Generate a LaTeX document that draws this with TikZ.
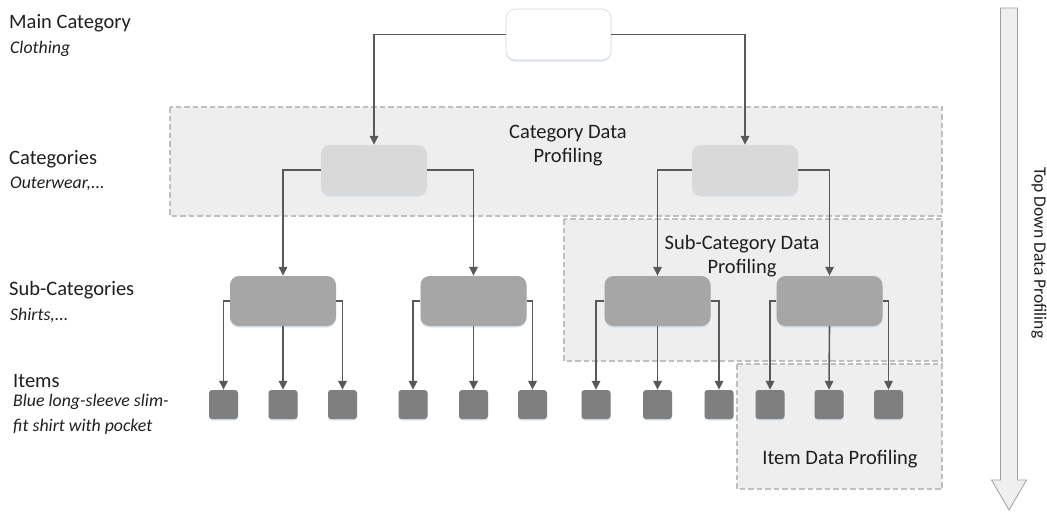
\documentclass[tikz,border=0pt]{standalone}
\usepackage{fontspec}
\setmainfont{Carlito}
\usetikzlibrary{arrows.meta,shadows}
\definecolor{lineC}{HTML}{595959}
\definecolor{regFill}{HTML}{EEEEEE}
\definecolor{regDraw}{HTML}{BFBFBF}
\definecolor{catFill}{HTML}{D9D9D9}
\definecolor{subFill}{HTML}{A6A6A6}
\definecolor{itemFill}{HTML}{7F7F7F}
\definecolor{rootDraw}{HTML}{D6D6D6}
\definecolor{shadowC}{HTML}{BFD3EA}
\definecolor{bigArrowFill}{HTML}{EFEFEF}
\definecolor{bigArrowDraw}{HTML}{A0A0A0}
\begin{document}
\begin{tikzpicture}[x=1pt,y=-1pt,
  region/.style={draw=regDraw, fill=regFill, line width=2.4pt, dash pattern=on 5.5pt off 3pt},
  regionlabel/.style={font=\fontsize{20.5}{25}\selectfont, align=center, text=black!88, inner sep=0pt, anchor=base},
  boxshadow/.style={drop shadow={shadow xshift=0pt, shadow yshift=-1.5pt, fill=shadowC, opacity=0.6}},
  rootbox/.style={draw=rootDraw, line width=0.6pt, fill=white, rounded corners=9pt, minimum width=105pt, minimum height=51pt, inner sep=0pt, boxshadow},
  catbox/.style={fill=catFill, rounded corners=9pt, minimum width=106pt, minimum height=50pt, inner sep=0pt, boxshadow},
  subbox/.style={fill=subFill, rounded corners=9pt, minimum width=106pt, minimum height=50pt, inner sep=0pt, boxshadow},
  itembox/.style={fill=itemFill, rounded corners=3pt, minimum width=29pt, minimum height=29pt, inner sep=0pt, boxshadow},
  conn/.style={draw=lineC, line width=1.6pt, -{Triangle[width=8.5pt,length=9pt]}},
  mainlabel/.style={font=\fontsize{20.5}{24}\selectfont, anchor=base west, inner sep=0pt, text=black!88},
  sublabel/.style={font=\fontsize{17.8}{21}\selectfont\itshape, anchor=base west, inner sep=0pt, text=black!88}
]
\useasboundingbox (0,0) rectangle (1047,512);

% regions
\draw[region] (170,107) rectangle (942,216);
\draw[region] (564,219) rectangle (942,361);
\draw[region] (737,364) rectangle (942,489);

\node[regionlabel] (catlab1) at (568,138) {Category Data};
\node[regionlabel] (catlab2) at (568,162) {Profiling};
\node[regionlabel] (sublab1) at (742,249) {Sub-Category Data};
\node[regionlabel] (sublab2) at (742,273) {Profiling};
\node[regionlabel] (itemlab) at (840,464) {Item Data Profiling};

% left labels
\node[mainlabel] (lmain) at (9,28.5) {Main Category};
\node[sublabel] (lcloth) at (10,53) {Clothing};
\node[mainlabel] (lcat) at (9,164) {Categories};
\node[sublabel] (louter) at (10,188.5) {Outerwear,...};
\node[mainlabel] (lsub) at (9,295.5) {Sub-Categories};
\node[sublabel] (lshirt) at (10,320) {Shirts,...};
\node[mainlabel] (litems) at (13,387) {Items};
\node[sublabel] (lblue) at (13,406) {Blue long-sleeve slim-};
\node[sublabel] (lfit) at (13,431) {fit shirt with pocket};

% boxes
\node[rootbox] (root) at (558.5,34.5) {};
\node[catbox] (c1) at (374,170) {};
\node[catbox] (c2) at (745,170) {};
\node[subbox] (s1) at (283,301) {};
\node[subbox] (s2) at (473.5,301) {};
\node[subbox] (s3) at (657.5,301) {};
\node[subbox] (s4) at (829.5,301) {};
\foreach \n/\xx in {1/223.5,2/283,3/342.5,4/413,5/473.5,6/532.5,7/596,8/657.5,9/719,10/770,11/829,12/888.5}{
  \node[itembox] (i\n) at (\xx,404.5) {};
}

% connectors
\draw[conn] (root.west) -| (c1.north);
\draw[conn] (root.east) -| (c2.north);
\draw[conn] (c1.west) -| (s1.north);
\draw[conn] (c1.east) -| (s2.north);
\draw[conn] (c2.west) -| (s3.north);
\draw[conn] (c2.east) -| (s4.north);
\draw[conn] (s1.west) -| (i1.north);
\draw[conn] (s1.south) -- (i2.north);
\draw[conn] (s1.east) -| (i3.north);
\draw[conn] (s2.west) -| (i4.north);
\draw[conn] (s2.south) -- (i5.north);
\draw[conn] (s2.east) -| (i6.north);
\draw[conn] (s3.west) -| (i7.north);
\draw[conn] (s3.south) -- (i8.north);
\draw[conn] (s3.east) -| (i9.north);
\draw[conn] (s4.west) -| (i10.north);
\draw[conn] (s4.south) -- (i11.north);
\draw[conn] (s4.east) -| (i12.north);

% big arrow
\draw[draw=bigArrowDraw, line width=0.8pt, fill=bigArrowFill]
  (1000.5,8) -- (1017.5,8) -- (1017.5,480) -- (1026.5,480) -- (1009,510)
  -- (991.5,480) -- (1000.5,480) -- cycle;
\node[font=\fontsize{17.5}{20}\selectfont, rotate=-90, inner sep=0pt, text=black!88] (toplab) at (1039,253) {Top Down Data Profiling};
\end{tikzpicture}
\end{document}
